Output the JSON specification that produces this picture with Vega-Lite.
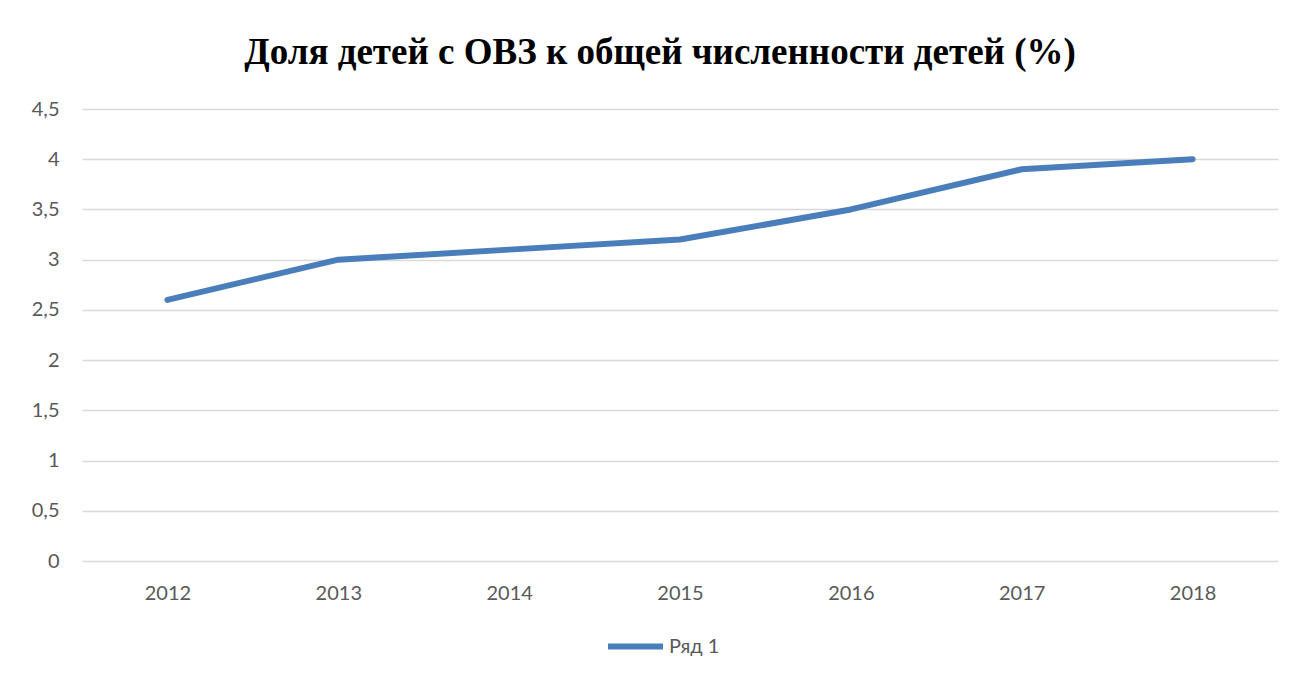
{
  "$schema": "https://vega.github.io/schema/vega-lite/v6.json",
  "width": 1196,
  "height": 452,
  "autosize": "none",
  "padding": {"left": 82, "top": 109, "right": 20, "bottom": 118},
  "background": "white",
  "config": {"view": {"stroke": null}},
  "title": {
    "text": "Доля детей с ОВЗ к общей численности детей (%)",
    "font": "Liberation Serif",
    "fontSize": 37,
    "fontWeight": "bold",
    "color": "#000000",
    "anchor": "middle",
    "dx": -20,
    "offset": 27
  },
  "data": {
    "values": [
      {"year": "2012", "value": 2.6, "series": "Ряд 1"},
      {"year": "2013", "value": 3.0, "series": "Ряд 1"},
      {"year": "2014", "value": 3.1, "series": "Ряд 1"},
      {"year": "2015", "value": 3.2, "series": "Ряд 1"},
      {"year": "2016", "value": 3.5, "series": "Ряд 1"},
      {"year": "2017", "value": 3.9, "series": "Ряд 1"},
      {"year": "2018", "value": 4.0, "series": "Ряд 1"}
    ]
  },
  "mark": {"type": "line", "strokeWidth": 6, "strokeCap": "round", "strokeJoin": "round"},
  "encoding": {
    "x": {
      "field": "year",
      "type": "ordinal",
      "scale": {"type": "point", "padding": 0.5},
      "axis": {
        "title": null,
        "labelAngle": 0,
        "ticks": false,
        "domain": false,
        "grid": false,
        "labelFont": "Lato",
        "labelFontSize": 20,
        "labelColor": "#595959",
        "labelPadding": 22
      }
    },
    "y": {
      "field": "value",
      "type": "quantitative",
      "scale": {"domain": [0, 4.5], "nice": false},
      "axis": {
        "title": null,
        "values": [0, 0.5, 1, 1.5, 2, 2.5, 3, 3.5, 4, 4.5],
        "labelExpr": "replace(format(datum.value, '~g'), '.', ',')",
        "ticks": false,
        "domain": false,
        "gridColor": "#d9d9d9",
        "gridWidth": 1.5,
        "labelFont": "Lato",
        "labelFontSize": 20,
        "labelColor": "#595959",
        "labelPadding": 23
      }
    },
    "color": {
      "field": "series",
      "type": "nominal",
      "scale": {"range": ["#4a7ebb"]},
      "legend": {
        "title": null,
        "orient": "none",
        "legendX": 523,
        "legendY": 507,
        "direction": "horizontal",
        "symbolType": "stroke",
        "symbolSize": 3025,
        "symbolStrokeWidth": 6,
        "labelFont": "Lato",
        "labelFontSize": 20,
        "labelColor": "#595959",
        "labelOffset": 3
      }
    }
  }
}
